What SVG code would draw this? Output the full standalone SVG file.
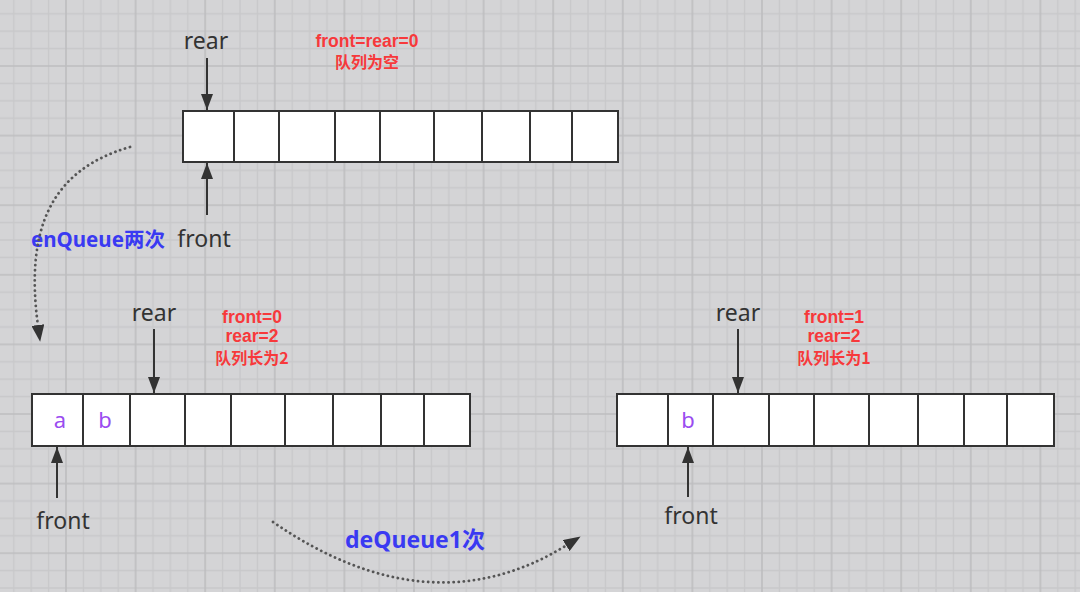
<svg xmlns="http://www.w3.org/2000/svg" width="1080" height="592" viewBox="0 0 1080 592">
<style>
.cell{fill:#ffffff;stroke:#333333;stroke-width:2}
.lbl{font-family:"Noto Sans","Liberation Sans",sans-serif;font-size:23px;fill:#333333;text-anchor:middle}
.note{font-family:"Liberation Sans","Noto Sans CJK SC",sans-serif;font-size:17.5px;font-weight:bold;fill:#f7393b;text-anchor:middle}
.cjk{font-family:"Noto Sans CJK SC","Noto Sans",sans-serif;font-size:16px}
.val{font-family:"Noto Sans","Liberation Sans",sans-serif;font-size:22px;fill:#9a4cf0;text-anchor:middle}
.op{font-family:"Noto Sans","Noto Sans CJK SC",sans-serif;font-weight:bold;fill:#3a3af2}
.ptr{stroke:#333333;stroke-width:2;fill:none;marker-end:url(#solid)}
.dot{stroke:#555555;stroke-width:2.8;fill:none;stroke-dasharray:0.1 5;stroke-linecap:round;marker-end:url(#dotHead)}
</style>
<defs>
<pattern id="grid" patternUnits="userSpaceOnUse" x="-4.6" y="-4.6" width="69.6" height="69.6">
<g stroke="#c8c8ca" stroke-width="1.4">
<line x1="18.4" y1="0" x2="18.4" y2="69.6"/>
<line x1="35.8" y1="0" x2="35.8" y2="69.6"/>
<line x1="53.2" y1="0" x2="53.2" y2="69.6"/>
<line x1="0" y1="18.4" x2="69.6" y2="18.4"/>
<line x1="0" y1="35.8" x2="69.6" y2="35.8"/>
<line x1="0" y1="53.2" x2="69.6" y2="53.2"/>
</g>
<g stroke="#bdbdbf" stroke-width="1.6">
<line x1="1" y1="0" x2="1" y2="69.6"/>
<line x1="0" y1="1" x2="69.6" y2="1"/>
</g>
</pattern>
<marker id="solid" markerUnits="userSpaceOnUse" markerWidth="16" markerHeight="12" refX="16" refY="6" orient="auto">
<path d="M0,0 L16,6 L0,12 z" fill="#333333"/>
</marker>
<marker id="dotHead" markerUnits="userSpaceOnUse" markerWidth="17" markerHeight="13" refX="1" refY="6.5" orient="auto">
<path d="M0,0 L17,6.5 L0,13 z" fill="#333333"/>
</marker>
</defs>
<rect x="0" y="0" width="1080" height="592" fill="#d4d4d6"/>
<rect x="0" y="0" width="1080" height="592" fill="url(#grid)"/>

<g id="queue-empty">
<rect class="cell" x="183" y="111" width="51" height="51"/>
<rect class="cell" x="234" y="111" width="45" height="51"/>
<rect class="cell" x="279" y="111" width="56" height="51"/>
<rect class="cell" x="335" y="111" width="45" height="51"/>
<rect class="cell" x="380" y="111" width="54" height="51"/>
<rect class="cell" x="434" y="111" width="48" height="51"/>
<rect class="cell" x="482" y="111" width="48" height="51"/>
<rect class="cell" x="530" y="111" width="42" height="51"/>
<rect class="cell" x="572" y="111" width="46" height="51"/>
<text class="lbl" x="206" y="49">rear</text>
<text class="lbl" x="204" y="247">front</text>
<text class="note" x="367" y="47">front=rear=0</text>
<text class="note cjk" x="367" y="68">队列为空</text>
</g>

<g id="queue-two">
<rect class="cell" x="32" y="394" width="51" height="52"/>
<rect class="cell" x="83" y="394" width="47" height="52"/>
<rect class="cell" x="130" y="394" width="55" height="52"/>
<rect class="cell" x="185" y="394" width="46" height="52"/>
<rect class="cell" x="231" y="394" width="54" height="52"/>
<rect class="cell" x="285" y="394" width="48" height="52"/>
<rect class="cell" x="333" y="394" width="48" height="52"/>
<rect class="cell" x="381" y="394" width="43" height="52"/>
<rect class="cell" x="424" y="394" width="46" height="52"/>
<text class="val" x="60" y="428">a</text>
<text class="val" x="105" y="428">b</text>
<text class="lbl" x="154" y="321">rear</text>
<text class="lbl" x="63" y="529">front</text>
<text class="note" x="252" y="322.5">front=0</text>
<text class="note" x="252" y="342">rear=2</text>
<text class="note cjk" x="252" y="364">队列长为2</text>
</g>

<g id="queue-one">
<rect class="cell" x="617" y="394" width="51" height="52"/>
<rect class="cell" x="668" y="394" width="45" height="52"/>
<rect class="cell" x="713" y="394" width="56" height="52"/>
<rect class="cell" x="769" y="394" width="45" height="52"/>
<rect class="cell" x="814" y="394" width="55" height="52"/>
<rect class="cell" x="869" y="394" width="49" height="52"/>
<rect class="cell" x="918" y="394" width="46" height="52"/>
<rect class="cell" x="964" y="394" width="43" height="52"/>
<rect class="cell" x="1007" y="394" width="47" height="52"/>
<text class="val" x="688" y="428">b</text>
<text class="lbl" x="738" y="321">rear</text>
<text class="lbl" x="691" y="524">front</text>
<text class="note" x="834" y="322.5">front=1</text>
<text class="note" x="834" y="342">rear=2</text>
<text class="note cjk" x="834" y="364">队列长为1</text>
</g>

<g id="op-labels">
<text class="op" x="31" y="247" font-size="20.5">enQueue两次</text>
<text class="op" x="345" y="548" font-size="23">deQueue1次</text>
</g>

<g id="connectors">
<line class="ptr" x1="207" y1="58" x2="207" y2="110"/>
<line class="ptr" x1="207" y1="215" x2="207" y2="163"/>
<line class="ptr" x1="154" y1="329" x2="154" y2="393"/>
<line class="ptr" x1="57" y1="498" x2="57" y2="447"/>
<line class="ptr" x1="738" y1="329" x2="738" y2="393"/>
<line class="ptr" x1="688" y1="497" x2="688" y2="447"/>
<path class="dot" d="M130,147 C50,170 25,230 38,326"/>
<path class="dot" d="M273,522 Q430,630 567,545"/>
</g>
</svg>
